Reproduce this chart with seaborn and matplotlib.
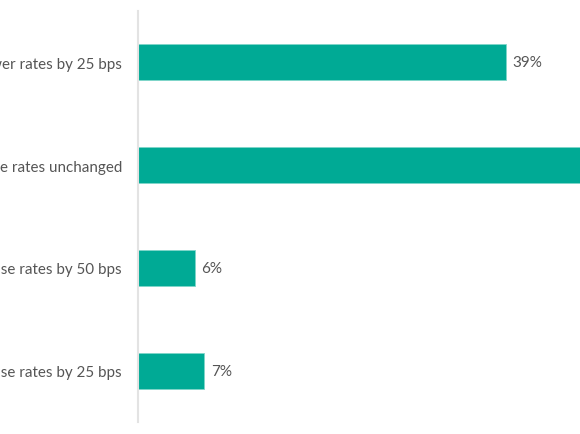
import matplotlib
matplotlib.use("Agg")
import matplotlib.pyplot as plt
import seaborn as sns
import pandas as pd

# ── Data ──────────────────────────────────────────────────────────────────────
options = ["Lower rates by 25 bps", "Leave rates unchanged",
           "Raise rates by 50 bps", "Raise rates by 25 bps"]
shares = [39, 48, 6, 7]

BAR_COLOR = "#00AA95"
TEXT_COLOR = "#555555"

sns.set_theme(style="white")
plt.rcParams["font.family"] = ["Lato", "DejaVu Sans"]

df = pd.DataFrame({"option": options, "share": shares})

fig = plt.figure(figsize=(5.8, 4.35), dpi=100)
# axes deliberately runs past the figure edges (reference is a crop)
ax = fig.add_axes([138 / 580, 12 / 435, 472 / 580, 411 / 435])

sns.barplot(data=df, x="share", y="option", orient="h", color=BAR_COLOR,
            saturation=1, width=0.35, edgecolor="#7fd6ca", linewidth=0.6, ax=ax)

for i, v in enumerate(shares):
    ax.text(v + 0.7, i, f"{v}%", va="center", ha="left",
            fontsize=11, color=TEXT_COLOR)

ax.set_xlim(0, 50)
ax.set_ylim(3.5, -0.5)
ax.set_xlabel("")
ax.set_ylabel("")
ax.set_xticks([])
ax.tick_params(axis="y", length=0, pad=11.5, labelsize=10.9, labelcolor=TEXT_COLOR)
for s in ["top", "right", "bottom"]:
    ax.spines[s].set_visible(False)
ax.spines["left"].set_color("#e3e3e3")
ax.spines["left"].set_linewidth(1.5)

fig.savefig("out.png", dpi=100)
plt.close(fig)
